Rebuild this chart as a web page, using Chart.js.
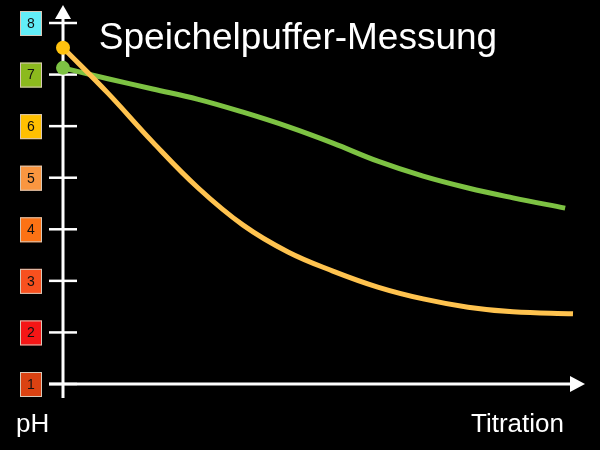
<!DOCTYPE html>
<html>
<head>
<meta charset="utf-8">
<script src="https://cdn.jsdelivr.net/npm/chart.js@4/dist/chart.umd.min.js"></script>
<style>
  html, body { margin: 0; padding: 0; background: #000; }
  #wrap { width: 600px; height: 450px; }
</style>
</head>
<body>
<div id="wrap"><canvas id="grafica" width="600" height="450"></canvas></div>
<script>
// Werte (pH ueber Titration, x in % der Achse)
const phTicks = [1, 2, 3, 4, 5, 6, 7, 8];
const gruenX = [0, 8.6, 17.2, 25.9, 34.5, 43.1, 51.7, 60.3, 69.0, 77.6, 86.2, 96.2];
const gruenY = [7.13, 6.92, 6.72, 6.52, 6.27, 5.99, 5.67, 5.32, 5.03, 4.80, 4.61, 4.41];
const orangeX = [0, 8.6, 17.2, 25.9, 34.5, 43.1, 51.7, 60.3, 69.0, 77.6, 86.2, 97.7];
const orangeY = [7.52, 6.64, 5.69, 4.80, 4.08, 3.56, 3.19, 2.88, 2.65, 2.49, 2.40, 2.36];

// Farben der pH-Kaestchen (1..8)
const boxColors = ['#DA4212', '#F51616', '#F8501E', '#FC7214', '#FA9640', '#FFC000', '#8CBA1E', '#62EEF8'];

const graph = document.getElementById("grafica");

function punkte(xs, ys) {
  return xs.map((x, i) => ({ x: x, y: ys[i] }));
}

function nurErster(n, r) {
  return Array.from({ length: n }, (_, i) => (i == 0 ? r : 0));
}

const achsen = {
  id: 'achsen',
  beforeDraw(chart) {
    const c = chart.ctx;
    c.save();
    c.fillStyle = '#000';
    c.fillRect(0, 0, chart.width, chart.height);
    c.restore();
  },
  beforeDatasetsDraw(chart) {
    const c = chart.ctx;
    const xs = chart.scales.x;
    const ys = chart.scales.y;
    const x0 = xs.getPixelForValue(0);
    const y1 = ys.getPixelForValue(1);
    const xEnd = xs.getPixelForValue(100);
    const yTop = ys.getPixelForValue(8) - 18;
    c.save();
    c.strokeStyle = '#fff';
    c.fillStyle = '#fff';
    c.lineWidth = 3;
    // y-Achse
    c.beginPath();
    c.moveTo(x0, y1 + 14);
    c.lineTo(x0, yTop + 12);
    c.stroke();
    c.beginPath();
    c.moveTo(x0, yTop);
    c.lineTo(x0 - 8, yTop + 14);
    c.lineTo(x0 + 8, yTop + 14);
    c.closePath();
    c.fill();
    // x-Achse
    c.beginPath();
    c.moveTo(x0 - 14, y1);
    c.lineTo(xEnd - 12, y1);
    c.stroke();
    c.beginPath();
    c.moveTo(xEnd, y1);
    c.lineTo(xEnd - 15, y1 - 8);
    c.lineTo(xEnd - 15, y1 + 8);
    c.closePath();
    c.fill();
    // Striche und Kaestchen
    phTicks.forEach(function (v, i) {
      const y = ys.getPixelForValue(v);
      c.lineWidth = 2.5;
      c.strokeStyle = '#fff';
      c.beginPath();
      c.moveTo(x0 - 14, y);
      c.lineTo(x0 + 14, y);
      c.stroke();
      c.fillStyle = boxColors[i];
      c.fillRect(x0 - 43, y - 12, 22, 25);
      c.lineWidth = 1;
      c.strokeStyle = '#d8c8b8';
      c.strokeRect(x0 - 42.5, y - 11.5, 21, 24);
      c.fillStyle = '#111';
      c.font = '14px "Liberation Sans", Arial, sans-serif';
      c.textAlign = 'center';
      c.textBaseline = 'middle';
      c.fillText(String(v), x0 - 32, y + 1);
    });
    // Texte
    c.fillStyle = '#fff';
    c.textBaseline = 'alphabetic';
    c.font = '37px "Liberation Sans", Arial, sans-serif';
    c.textAlign = 'center';
    c.fillText('Speichelpuffer-Messung', 298, 49);
    c.font = '26px "Liberation Sans", Arial, sans-serif';
    c.textAlign = 'left';
    c.fillText('pH', 16, 432);
    c.textAlign = 'right';
    c.fillText('Titration', 564, 432);
    c.restore();
  }
};

const config = {
  type: 'line',
  data: {
    datasets: [{
      label: 'Orange',
      data: punkte(orangeX, orangeY),
      borderColor: '#FFC34F',
      borderWidth: 5,
      pointRadius: nurErster(orangeX.length, 7),
      pointBackgroundColor: '#FFC20E',
      pointBorderWidth: 0,
      tension: 0.4,
      clip: false
    }, {
      label: 'Gruen',
      data: punkte(gruenX, gruenY),
      borderColor: '#7DC243',
      borderWidth: 5,
      pointRadius: nurErster(gruenX.length, 7),
      pointBackgroundColor: '#7DC243',
      pointBorderWidth: 0,
      tension: 0.4,
      clip: false
    }]
  },
  options: {
    responsive: false,
    animation: false,
    layout: { padding: { left: 63, right: 15, top: 23, bottom: 66 } },
    plugins: {
      legend: { display: false },
      title: { display: false },
      tooltip: { enabled: false }
    },
    scales: {
      x: { type: 'linear', min: 0, max: 100, display: false },
      y: { min: 1, max: 8, display: false }
    }
  },
  plugins: [achsen]
};

let grafico = new Chart(graph, config);
</script>
</body>
</html>
